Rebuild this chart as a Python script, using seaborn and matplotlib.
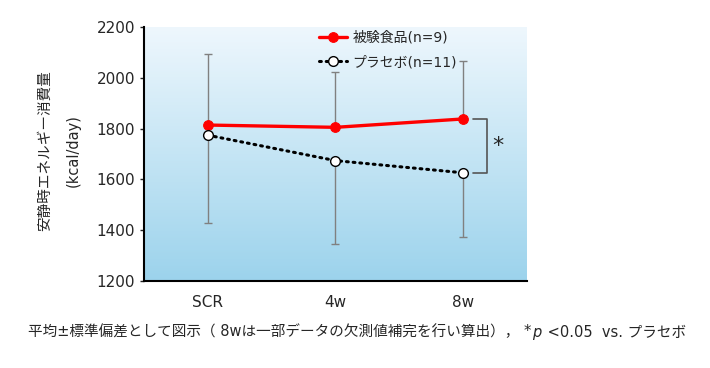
import numpy as np
import pandas as pd
import matplotlib
matplotlib.use('Agg')
import matplotlib.pyplot as plt
from matplotlib.colors import LinearSegmentedColormap
import seaborn as sns

sns.set_style('white')
plt.rcParams['font.family'] = ['DejaVu Sans', 'Noto Sans CJK JP']

timepoints = ['SCR', '4w', '8w']
test_food = [1814, 1805, 1838]
test_food_sd = [280, 217, 227]
placebo = [1774, 1674, 1626]
placebo_sd = [344, 329, 252]

df = pd.DataFrame({'time': timepoints * 2,
                   'value': test_food + placebo,
                   'group': ['被験食品(n=9)'] * 3 + ['プラセボ(n=11)'] * 3})

fig = plt.figure(figsize=(7.1, 3.68), dpi=100)
ax = fig.add_axes([144 / 710, 1 - 281 / 368, 383 / 710, 254 / 368])

# gradient background
cmap = LinearSegmentedColormap.from_list('bg', ['#9cd3ec', '#eef7fd'])
grad = np.linspace(0, 1, 256).reshape(-1, 1)
ax.imshow(grad, aspect='auto', cmap=cmap, origin='lower',
          extent=[0, 1, 0, 1], transform=ax.transAxes, zorder=0)

x = np.arange(len(timepoints))
ax.errorbar(x, test_food, yerr=[np.zeros(3), test_food_sd], fmt='none',
            ecolor='#808080', elinewidth=1, capsize=3, capthick=1, zorder=2)
ax.errorbar(x, placebo, yerr=[placebo_sd, np.zeros(3)], fmt='none',
            ecolor='#808080', elinewidth=1, capsize=3, capthick=1, zorder=2)

sns.lineplot(data=df[df.group == '被験食品(n=9)'], x='time', y='value', ax=ax,
             color='#ff0000', linewidth=2.4, marker='o', markersize=7,
             markeredgecolor='#ff0000', label='被験食品(n=9)', zorder=4)
sns.lineplot(data=df[df.group == 'プラセボ(n=11)'], x='time', y='value', ax=ax,
             color='black', linewidth=2.2, linestyle=(0, (0.6, 1.6)),
             dash_capstyle='round', marker='o', markersize=7,
             markerfacecolor='white', markeredgecolor='black',
             markeredgewidth=1, label='プラセボ(n=11)', zorder=4)

# significance bracket at 8w
ax.plot([2.08, 2.19, 2.19, 2.08], [test_food[2], test_food[2], placebo[2], placebo[2]],
        color='#555555', linewidth=1.2, zorder=3)
ax.text(2.27, (test_food[2] + placebo[2]) / 2, '*', fontsize=16, ha='center', va='center')

ax.set_xlim(-0.5, 2.5)
ax.set_ylim(1200, 2200)
ax.set_yticks(range(1200, 2201, 200))
ax.set_xticks(x)
ax.set_xticklabels(timepoints)
ax.tick_params(axis='y', labelsize=11, length=3, width=1, left=True, direction='out')
ax.tick_params(axis='x', labelsize=11, length=0, pad=10)
for s in ['top', 'right']:
    ax.spines[s].set_visible(False)
for s in ['left', 'bottom']:
    ax.spines[s].set_color('black')
    ax.spines[s].set_linewidth(1.5)
ax.set_xlabel('')
ax.set_ylabel('')

fig.text(45 / 710, 1 - 151 / 368, '安静時エネルギー消費量', rotation=90, ha='center', va='center',
         fontsize=10.5, family=['Noto Sans CJK JP', 'DejaVu Sans'])
fig.text(73 / 710, 1 - 151 / 368, '(kcal/day)', rotation=90, ha='center', va='center',
         fontsize=10.5)

leg = ax.legend(loc='upper left', bbox_to_anchor=(0.425, 1.035), frameon=False,
                fontsize=10, handlelength=2.0, handletextpad=0.4, labelspacing=0.75)
for t in leg.get_texts():
    t.set_family(['DejaVu Sans', 'Noto Sans CJK JP'])

# caption in pieces so that p can be italic
caption_parts = [('平均±標準偏差として図示（ 8wは一部データの欠測値補完を行い算出）， *', 'normal'),
                 ('p', 'italic'),
                 (' <0.05  vs. プラセボ', 'normal')]
renderer = fig.canvas.get_renderer()
xpos = 28
for txt, style in caption_parts:
    t = fig.text(xpos / 710, 1 - 332 / 368, txt, fontsize=10.5, style=style,
                 ha='left', va='center', family=['DejaVu Sans', 'Noto Sans CJK JP'])
    xpos = t.get_window_extent(renderer).x1 + 1

fig.savefig('out.png', dpi=100)
